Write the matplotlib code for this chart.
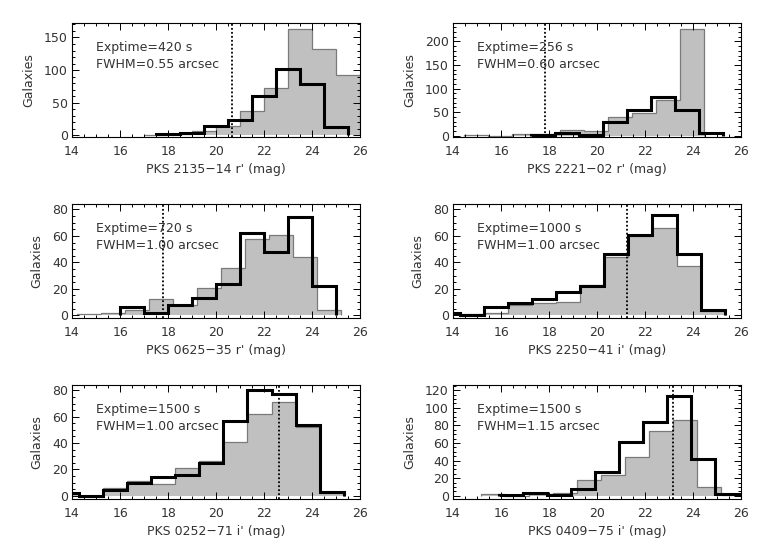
"""Galaxy magnitude histograms for six PKS fields (3x2 grid)."""

import matplotlib

matplotlib.use("Agg")
import matplotlib.pyplot as plt
import numpy as np
from matplotlib.ticker import MultipleLocator

# Panels run left-to-right, then top-to-bottom.
FIELDS = [
    "PKS 2135\u221214 r'", "PKS 2221\u221202 r'",
    "PKS 0625\u221235 r'", "PKS 2250\u221241 i'",
    "PKS 0252\u221271 i'", "PKS 0409\u221275 i'",
]
EXPTIMES = [420, 256, 720, 1000, 1500, 1500]
FWHMS = ["0.55", "0.60", "1.00", "1.00", "1.00", "1.15"]
# Magnitude of the dotted reference line in each field.
LIMITS = [20.65, 17.83, 17.78, 21.22, 22.60, 23.15]

# Grey filled histogram: first bin edge, then counts in 1 mag bins.
GREY_START = [17.0, 14.45, 14.2, 13.3, 13.3, 15.17]
GREY_COUNTS = [
    [1, 2, 7, 15, 38, 72, 163, 132, 93],
    [1, 0, 4, 3, 12, 9, 40, 49, 76, 227],
    [1, 2, 4, 12, 8, 21, 36, 58, 61, 44, 4],
    [1, 1, 2, 8, 9, 10, 23, 44, 60, 66, 37, 3],
    [1, 0, 6, 11, 9, 21, 26, 41, 62, 71, 52, 2],
    [2, 0, 2, 3, 18, 24, 44, 73, 86, 10, 1],
]
# Thick black histogram, same layout.
BLACK_START = [17.5, 17.25, 16.0, 13.3, 13.3, 15.92]
BLACK_COUNTS = [
    [2, 4, 15, 23, 61, 102, 78, 13],
    [1, 6, 1, 30, 55, 83, 55, 6],
    [6, 2, 8, 13, 24, 62, 48, 74, 22],
    [2, 0, 6, 9, 12, 18, 22, 46, 61, 76, 46, 4],
    [2, 0, 4, 10, 14, 16, 25, 57, 80, 77, 54, 3],
    [1, 3, 1, 8, 27, 61, 84, 113, 42, 2],
]

# y axis per panel: major step and range
Y_STEPS = [50, 50, 20, 20, 20, 20]
Y_LIMS = [(-2.6, 172), (-2.8, 239), (-2.0, 84), (-2.0, 84), (-2.5, 84), (-3.7, 125.7)]

TEXT = "#333333"
plt.rcParams["font.family"] = "DejaVu Sans"
plt.rcParams["font.size"] = 9

fig = plt.figure(figsize=(7.63, 5.45), dpi=100)
lefts = [0.0944, 0.5937]
bottoms = [0.7486, 0.4165, 0.0844]

for i in range(6):
    ax = fig.add_axes([lefts[i % 2], bottoms[i // 2], 0.378, 0.209])

    grey = np.array(GREY_COUNTS[i])
    grey_edges = GREY_START[i] + np.arange(len(grey) + 1)
    ax.stairs(grey, grey_edges, fill=True, color="#c0c0c0", lw=0)
    ax.stairs(grey, grey_edges, color="#7a7a7a", lw=0.9)

    black = np.array(BLACK_COUNTS[i])
    black_edges = BLACK_START[i] + np.arange(len(black) + 1)
    ax.stairs(black, black_edges, color="black", lw=2.2)

    ax.axvline(LIMITS[i], color="black", lw=1.3, ls=(0, (1, 1.2)))

    ax.text(0.083, 0.79, f"Exptime={EXPTIMES[i]} s", transform=ax.transAxes,
            color=TEXT, va="center")
    ax.text(0.083, 0.64, f"FWHM={FWHMS[i]} arcsec", transform=ax.transAxes,
            color=TEXT, va="center")

    ax.set_xlim(14, 26)
    ax.set_ylim(*Y_LIMS[i])
    ax.xaxis.set_major_locator(MultipleLocator(2))
    ax.xaxis.set_minor_locator(MultipleLocator(0.5))
    ax.yaxis.set_major_locator(MultipleLocator(Y_STEPS[i]))
    ax.yaxis.set_minor_locator(MultipleLocator(Y_STEPS[i] / (5 if Y_STEPS[i] == 50 else 4)))
    ax.tick_params(which="both", direction="in", top=True, right=True,
                   labelcolor=TEXT, width=0.7)
    ax.tick_params(which="major", length=5)
    ax.tick_params(which="minor", length=2.5)
    ax.tick_params(axis="x", pad=6)
    ax.tick_params(axis="y", pad=3)
    for s in ax.spines.values():
        s.set_linewidth(0.8)

    ax.set_xlabel(f"{FIELDS[i]} (mag)", color=TEXT, labelpad=3)
    ax.set_ylabel("Galaxies", color=TEXT, labelpad=6)

fig.savefig("out.png", dpi=100)
